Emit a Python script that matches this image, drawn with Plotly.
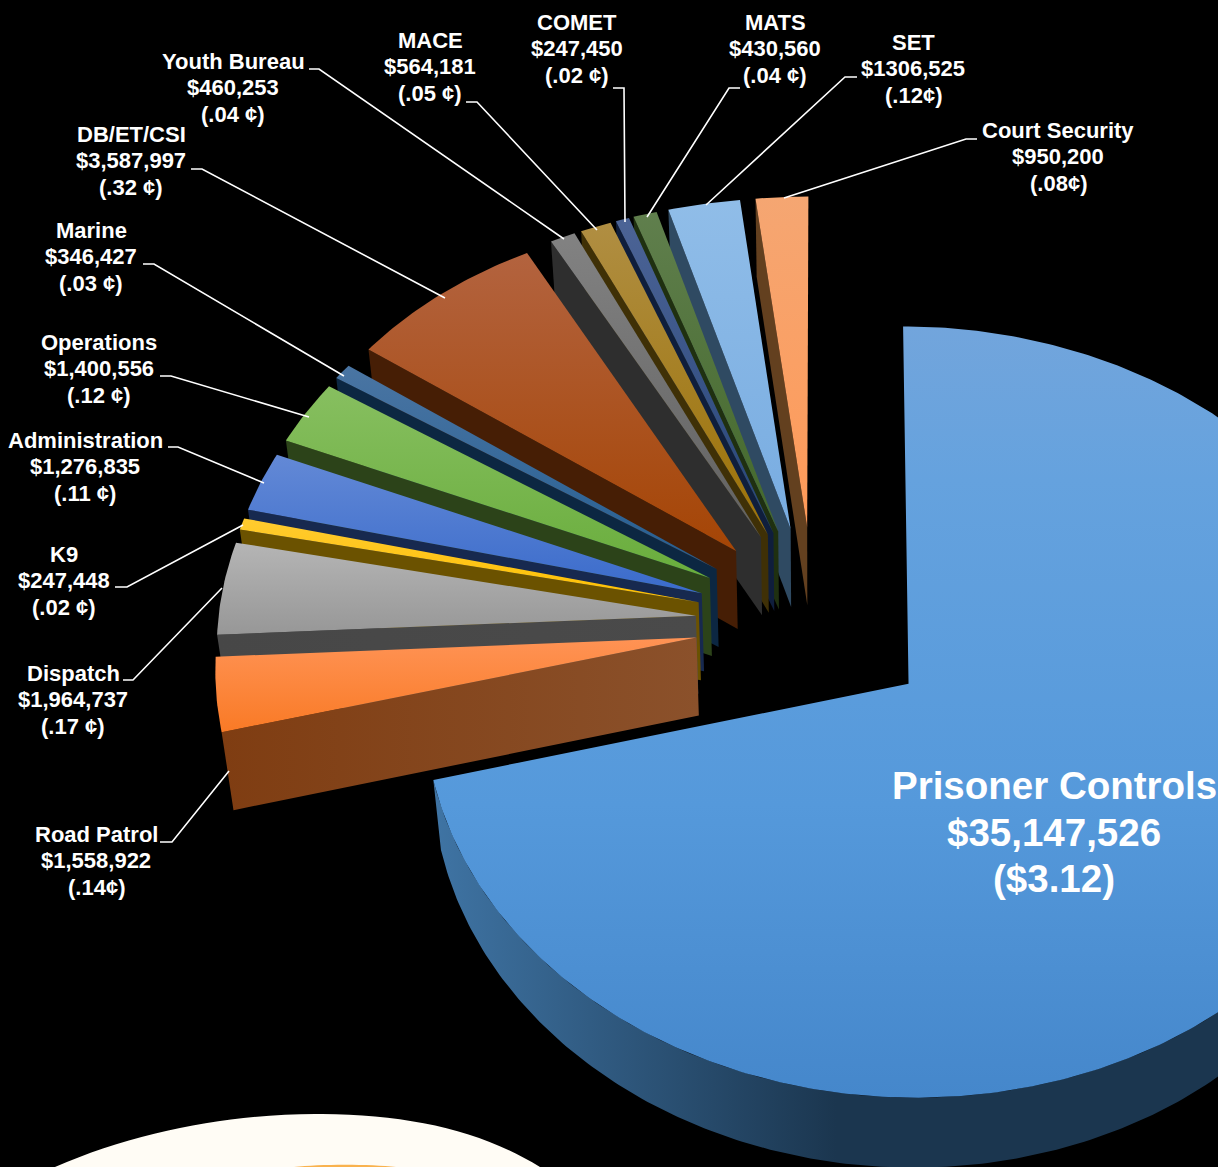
import math
import plotly.graph_objects as go

# ---- data ----
names = ["Prisoner Controls", "Road Patrol", "Dispatch", "K9", "Administration", "Operations", "Marine",
         "DB/ET/CSI", "Youth Bureau", "MACE", "COMET", "MATS", "SET", "Court Security"]
amounts = [35147526, 1558922, 1964737, 247448, 1276835, 1400556, 346427,
           3587997, 460253, 564181, 247450, 430560, 1306525, 950200]
amount_labels = ["$35,147,526", "$1,558,922", "$1,964,737", "$247,448", "$1,276,835", "$1,400,556", "$346,427",
                 "$3,587,997", "$460,253", "$564,181", "$247,450", "$430,560", "$1306,525", "$950,200"]
rate_labels = ["($3.12)", "(.14¢)", "(.17 ¢)", "(.02 ¢)", "(.11 ¢)", "(.12 ¢)", "(.03 ¢)",
               "(.32 ¢)", "(.04 ¢)", "(.05 ¢)", "(.02 ¢)", "(.04 ¢)", "(.12¢)", "(.08¢)"]

top_light = ["#72a5dc", "#ff9355", "#b5b5b5", "#ffcb30", "#6389d6", "#87bf60", "#4a75a3",
             "#b3633f", "#828282", "#b08e42", "#4c6496", "#607f4d", "#90bde8", "#f5a672"]
top_deep = ["#4587cb", "#f97a26", "#979797", "#ffc000", "#3a6bcb", "#69ad3c", "#255e91",
            "#a54505", "#616161", "#9c7206", "#264478", "#43682b", "#78ace1", "#ff9a58"]
wall_a = ["#3f74a4", "#7f3d12", "#474747", "#6b5200", "#17294f", "#2c4319", "#0c2742",
          "#461e05", "#2e2e2e", "#3f3006", "#0f1e3c", "#1f3010", "#2f4a62", "#63401f"]
wall_b = ["#1b364f", "#8b512b", "#4a4a4a", "#6b5200", "#17294f", "#2c4319", "#0c2742",
          "#461e05", "#2e2e2e", "#3f3006", "#0f1e3c", "#1f3010", "#2f4a62", "#63401f"]

# label block centres: x, first-line y
label_x = [1054, 96, 73, 64, 85, 99, 91, 131, 233, 430, 577, 775, 913, 1058]
label_y = [785.5, 834, 673, 554, 440, 342, 230, 134, 61, 40, 22, 22, 42, 130]

leaders = [
    [(160, 842), (172, 842), (229, 771)],
    [(123, 680), (133, 680), (222, 588)],
    [(115, 587), (127, 587), (243, 525)],
    [(168, 447), (178, 447), (264, 483)],
    [(160, 376), (171, 376), (309, 417)],
    [(143, 264), (154, 264), (344, 376)],
    [(191, 169), (202, 169), (445, 298)],
    [(309, 69), (319, 69), (564, 239)],
    [(466, 102), (477, 102), (597, 230)],
    [(613, 88), (624, 88), (625, 222)],
    [(740, 88), (729, 88), (647, 217)],
    [(857, 77), (845, 77), (706, 205)],
    [(977, 139), (966, 139), (784, 198)],
]

# ---- projection of the exploded, tilted pie ----
CX, CY = 814.0, 623.0
RX, RY = 478.0, 376.0
PERSP = 0.07
EXPLODE_U = 0.248
EXPLODE_V = 0.26
BACK_SAG = 3.5
DEPTH = 78.0
DEPTH_MAIN = 70.0
START = 0.1


def project(u, v, depth=0.0):
    w = 1 + PERSP * v
    x = CX + RX * u / w
    y = CY - RY * v / w + BACK_SAG * max(v, 0) ** 4
    if depth:
        x += (CX - x) * 0.02
        y += depth
    return x, y


def rim(apex, deg, depth=0.0):
    a = math.radians(deg)
    return project(apex[0] + math.sin(a), apex[1] + math.cos(a), depth)


def poly(points, colorscale, kind):
    xs = [p[0] for p in points] + [points[0][0]]
    ys = [p[1] for p in points] + [points[0][1]]
    return go.Scatter(x=xs, y=ys, mode="lines", line=dict(width=0), fill="toself",
                      fillgradient=dict(type=kind, colorscale=colorscale),
                      hoverinfo="skip", showlegend=False)


total = sum(amounts)
spans = []
angle = START
for amt in amounts:
    sweep = 360 * amt / total
    spans.append((angle, angle + sweep))
    angle += sweep

fig = go.Figure()
for i in range(len(names) - 1, -1, -1):
    a0, a1 = spans[i]
    mid = math.radians((a0 + a1) / 2)
    apex = (EXPLODE_U * math.sin(mid), EXPLODE_V * math.cos(mid))
    steps = max(3, int((a1 - a0) * 1.5))
    arc = [a0 + (a1 - a0) * k / steps for k in range(steps + 1)]
    if i == 0:
        band = [a for a in arc if a >= 60]
        pts = [rim(apex, a) for a in band] + [rim(apex, a, DEPTH_MAIN) for a in reversed(band)]
        fig.add_trace(poly(pts, [[0, wall_a[i]], [0.42, wall_b[i]], [1, wall_b[i]]], "horizontal"))
        scale = [[0, top_deep[i]], [0.38, "#5599db"], [0.8, "#65a2de"], [1, top_light[i]]]
    else:
        ap_hi = project(*apex)
        ap_lo = project(*apex, DEPTH)
        fig.add_trace(poly([ap_hi, rim(apex, a0), rim(apex, a0, DEPTH), ap_lo],
                           [[0, wall_a[i]], [1, wall_b[i]]], "horizontal"))
        scale = [[0, top_deep[i]], [1, top_light[i]]]
    top = [project(*apex)] + [rim(apex, a) for a in arc]
    fig.add_trace(poly(top, scale, "vertical"))

shapes = [
    dict(type="path", path="M 55 1167 C 140 1130, 240 1113, 322 1114 C 410 1115, 480 1130, 540 1167 Z",
         fillcolor="#fffcf5", line=dict(width=0)),
    dict(type="path", path="M 294 1167 C 320 1164, 370 1164, 396 1167 Z",
         fillcolor="#f9b24e", line=dict(width=0)),
]
for pts in leaders:
    path = "M " + " L ".join(f"{x} {y}" for x, y in pts)
    shapes.append(dict(type="path", path=path, line=dict(color="white", width=1.6)))

FONT = "Liberation Sans, Arial, sans-serif"
annotations = []
for i in range(len(names)):
    size, gap = (38.5, 46.5) if i == 0 else (22, 26.5)
    for k, text in enumerate((names[i], amount_labels[i], rate_labels[i])):
        annotations.append(dict(x=label_x[i], y=label_y[i] + k * gap, text=f"<b>{text}</b>", showarrow=False,
                                xanchor="center", yanchor="middle",
                                font=dict(family=FONT, size=size, color="white")))

fig.update_layout(width=1218, height=1167, margin=dict(l=0, r=0, t=0, b=0), autosize=False,
                  paper_bgcolor="black", plot_bgcolor="black", showlegend=False,
                  xaxis=dict(range=[0, 1218], visible=False, fixedrange=True),
                  yaxis=dict(range=[1167, 0], visible=False, fixedrange=True),
                  shapes=shapes, annotations=annotations)
fig.write_html("out.html", config={"displayModeBar": False},
               post_script="document.body.style.margin='0';document.body.style.background='black';document.body.style.overflow='hidden';")
